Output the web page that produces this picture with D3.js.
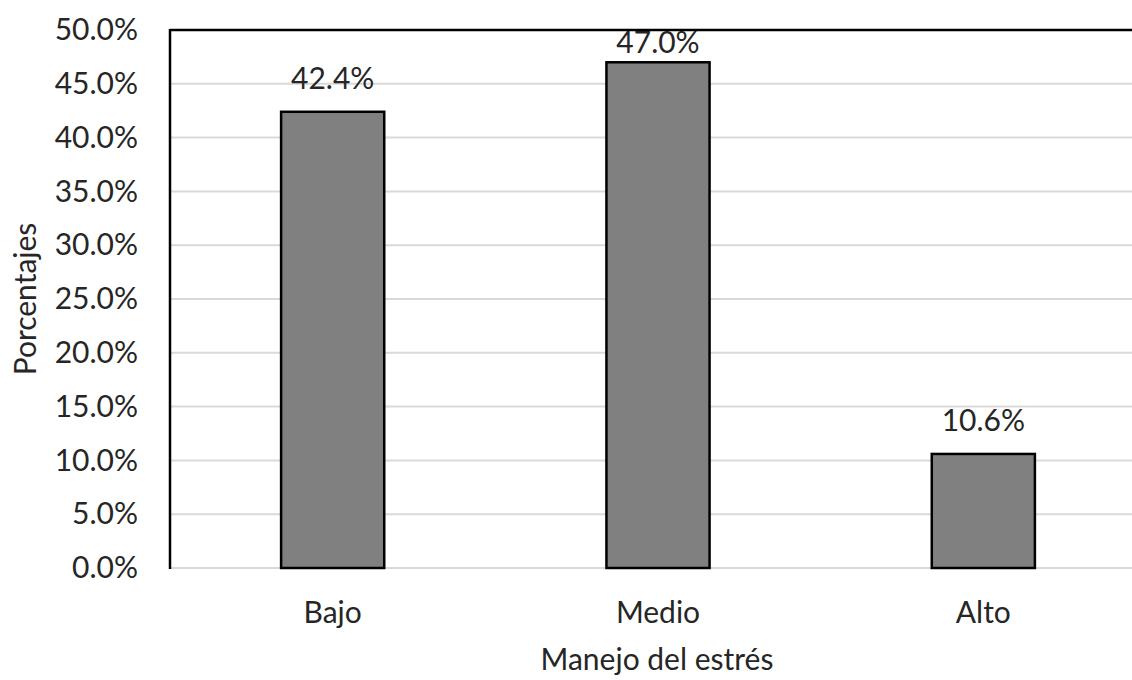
<!DOCTYPE html>
<html>
<head>
<meta charset="utf-8">
<script src="https://cdn.jsdelivr.net/npm/d3@7"></script>
<style>
  html, body { margin: 0; padding: 0; background: #fff; overflow: hidden; }
  svg { display: block; font-family: Lato, "Open Sans", sans-serif; }
</style>
</head>
<body>
<svg id="chart" width="1132" height="680"></svg>
<script>
// Stress management levels and their share of respondents
const categories = ["Bajo", "Medio", "Alto"];
const percentages = [42.4, 47.0, 10.6];
const yTicks = [0, 5, 10, 15, 20, 25, 30, 35, 40, 45, 50];
const yTitle = "Porcentajes";
const xTitle = "Manejo del estrés";

const FONT = "Lato, 'Open Sans', sans-serif";
const FS = 30;
const TEXT = "#262626";

const svg = d3.select("#chart");
const plot = { left: 170, right: 1146, top: 30, bottom: 568 };

const x = d3.scaleBand()
  .domain(categories)
  .range([plot.left, plot.right])
  .paddingInner(0.683)
  .paddingOuter(0.3415);

const y = d3.scaleLinear()
  .domain([0, 50])
  .range([plot.bottom, plot.top]);

const fmt = d => d.toFixed(1) + "%";

// Horizontal gridlines
svg.append("g")
  .selectAll("line")
  .data(yTicks)
  .join("line")
  .attr("x1", plot.left)
  .attr("x2", plot.right)
  .attr("y1", d => y(d))
  .attr("y2", d => y(d))
  .attr("stroke", "#d9d9d9")
  .attr("stroke-width", 2);

// Y axis tick labels
const yAxis = d3.axisLeft(y).tickValues(yTicks).tickFormat(fmt).tickSize(0).tickPadding(32);
const gy = svg.append("g").attr("transform", `translate(${plot.left},0)`).call(yAxis);
gy.select(".domain").remove();
gy.selectAll("text")
  .attr("font-family", FONT)
  .attr("font-size", FS)
  .attr("fill", TEXT);

// Bars
svg.append("g")
  .selectAll("rect")
  .data(percentages)
  .join("rect")
  .attr("x", (d, i) => x(categories[i]))
  .attr("y", d => y(d))
  .attr("width", x.bandwidth())
  .attr("height", d => y(0) - y(d))
  .attr("fill", "#808080")
  .attr("stroke", "#000")
  .attr("stroke-width", 2.5);

// Value labels above bars, kept inside the plot frame
svg.append("g")
  .selectAll("text")
  .data(percentages)
  .join("text")
  .attr("x", (d, i) => x(categories[i]) + x.bandwidth() / 2)
  .attr("y", d => Math.max(y(d) - 23, plot.top + 23))
  .attr("text-anchor", "middle")
  .attr("font-family", FONT)
  .attr("font-size", FS)
  .attr("fill", TEXT)
  .text(fmt);

// Plot frame: left and top edges in black
svg.append("line")
  .attr("x1", plot.left).attr("x2", plot.left)
  .attr("y1", plot.top - 1).attr("y2", plot.bottom + 1)
  .attr("stroke", "#000").attr("stroke-width", 2.5);
svg.append("line")
  .attr("x1", plot.left).attr("x2", plot.right)
  .attr("y1", plot.top).attr("y2", plot.top)
  .attr("stroke", "#000").attr("stroke-width", 2.5);

// X axis category labels
const xAxis = d3.axisBottom(x).tickSize(0).tickPadding(0);
const gx = svg.append("g").attr("transform", `translate(0,${plot.bottom})`).call(xAxis);
gx.select(".domain").remove();
gx.selectAll("text")
  .attr("y", 55)
  .attr("dy", 0)
  .attr("font-family", FONT)
  .attr("font-size", FS)
  .attr("fill", TEXT);

// Axis titles
svg.append("text")
  .attr("x", 657)
  .attr("y", 670)
  .attr("text-anchor", "middle")
  .attr("font-family", FONT)
  .attr("font-size", FS)
  .attr("fill", TEXT)
  .text(xTitle);

svg.append("text")
  .attr("transform", `translate(36,${(plot.top + plot.bottom) / 2}) rotate(-90)`)
  .attr("text-anchor", "middle")
  .attr("font-family", FONT)
  .attr("font-size", FS)
  .attr("fill", TEXT)
  .text(yTitle);
</script>
</body>
</html>
